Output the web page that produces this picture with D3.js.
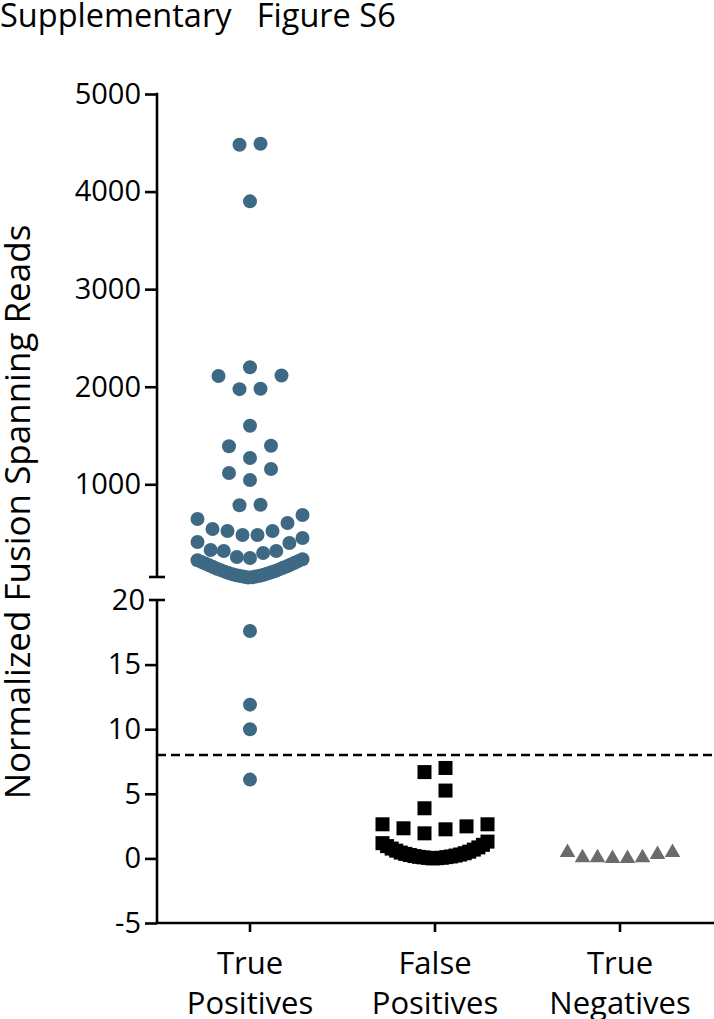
<!DOCTYPE html>
<html><head><meta charset="utf-8">
<script src="https://cdn.jsdelivr.net/npm/d3@7"></script>
<style>
body{margin:0;background:#fff}
svg{display:block}
text{font-family:"Open Sans",sans-serif;fill:#000}
</style>
</head><body>
<svg id="chart" width="714" height="1019"></svg>
<script>
// ---------- data ----------
const categories = ["True Positives", "False Positives", "True Negatives"];
const categoryLines = [["True", "Positives"], ["False", "Positives"], ["True", "Negatives"]];
const truePositives = [
  4480, 4490, 3900, 2200, 2115, 2110, 1980, 1975, 1600, 1395, 1390, 1270,
  1157, 1116, 1044, 790, 785, 685, 644, 603, 542, 521, 521, 480, 480,
  450, 409, 398, 327, 316, 316, 296, 255, 245,
  45, 48, 52, 55, 60, 62, 68, 72, 78, 85, 90, 98, 105, 112, 120, 128,
  135, 145, 152, 160, 170, 178, 188, 196, 205, 215, 222, 232,
  17.6, 11.9, 10.0, 6.1
];
const falsePositives = [
  7.0, 6.68, 5.25, 3.88, 2.64, 2.64, 2.48, 2.33, 2.25, 1.94,
  0.0, 0.02, 0.04, 0.05, 0.08, 0.1, 0.12, 0.15, 0.18, 0.22, 0.26, 0.3,
  0.35, 0.4, 0.45, 0.52, 0.6, 0.68, 0.76, 0.85, 0.95, 1.05, 1.18, 1.3
];
const trueNegatives = [0.45, 0.05, 0, 0, 0.05, 0.05, 0.3, 0.45];
const upperTicks = [1000, 2000, 3000, 4000, 5000];
const lowerTicks = [-5, 0, 5, 10, 15, 20];
const upperDomain = [50, 5000];
const lowerDomain = [-5, 20];
const threshold = 8;
const titleText = "Supplementary   Figure S6";
const yLabel = "Normalized Fusion Spanning Reads";

// ---------- setup ----------
const svg = d3.select("#chart");
const axisX = 157;
const x = d3.scaleBand().domain(categories).range([157.5, 712.5]);
const upperY = d3.scaleLinear().domain(upperDomain).range([577, 94]);
const lowerY = d3.scaleLinear().domain(lowerDomain).range([923, 600]);
const yOf = v => v >= 20 ? upperY(v) : lowerY(v);

// bin key in pixel rows (Prism-like column scatter)
const binPx = 22.9;
function binOf(v) {
  return v >= 20 ? "u" + Math.floor((upperY(5) - upperY(v)) / binPx)
                 : "l" + Math.floor((lowerY(0) - lowerY(v)) / binPx);
}
function layout(values, cx) {
  const groups = d3.group(values.map((v, i) => ({v, i})), d => binOf(d.v));
  const out = [];
  for (const [, pts] of groups) {
    pts.sort((a, b) => a.v - b.v);
    const n = pts.length;
    const s = n > 1 ? Math.min(21, 105 / (n - 1)) : 0;
    pts.forEach((p, k) => {
      let off;
      if (n % 2 === 1) {
        const m = Math.ceil(k / 2);
        off = k === 0 ? 0 : (k % 2 === 1 ? -m : m) * s;
      } else {
        const m = Math.floor(k / 2) + 0.5;
        off = (k % 2 === 0 ? -m : m) * s;
      }
      out.push({v: p.v, i: p.i, x: cx + off, y: yOf(p.v)});
    });
  }
  return out.sort((a, b) => a.i - b.i);
}
const cx = c => x(c) + x.bandwidth() / 2;

// ---------- title ----------
svg.append("text").attr("x", 0).attr("y", 27)
  .style("font-size", "32.5px").style("white-space", "pre")
  .text(titleText);

// ---------- y label ----------
svg.append("text")
  .attr("transform", "translate(30,512) rotate(-90)")
  .attr("text-anchor", "middle")
  .style("font-size", "35px")
  .text(yLabel);

// ---------- axes ----------
const lw = 2.6;
const fmt = d3.format("d");
const upperAxis = d3.axisLeft(upperY).tickValues(upperTicks).tickFormat(fmt).tickSize(12).tickPadding(4).tickSizeOuter(0);
const gU = svg.append("g").attr("transform", `translate(${axisX},0)`).call(upperAxis);
const lowerAxis = d3.axisLeft(lowerY).tickValues(lowerTicks).tickFormat(d => d < 0 ? "-" + Math.abs(d) : fmt(d)).tickSize(12).tickPadding(4).tickSizeOuter(0);
const gL = svg.append("g").attr("transform", `translate(${axisX},0)`).call(lowerAxis);
[gU, gL].forEach(g => {
  g.select(".domain").remove();
  g.selectAll(".tick line").attr("stroke", "#000").attr("stroke-width", lw);
  g.selectAll(".tick text").style("font-size", "29px").style("font-family", "'Open Sans',sans-serif").attr("fill", "#000");
});
gL.selectAll(".tick").filter(d => d === 20).select("line").remove();
gL.selectAll(".tick").filter(d => d === 20).select("text").attr("x", -12);

// axis segments with break caps
const ax = svg.append("g").attr("stroke", "#000").attr("stroke-width", lw).attr("fill", "none");
ax.append("line").attr("x1", axisX).attr("x2", axisX).attr("y1", upperY(upperDomain[1]) - lw / 2).attr("y2", upperY(upperDomain[0]));
ax.append("line").attr("x1", axisX - 8).attr("x2", axisX + 8).attr("y1", upperY(upperDomain[0])).attr("y2", upperY(upperDomain[0]));
ax.append("line").attr("x1", axisX).attr("x2", axisX).attr("y1", lowerY(lowerDomain[1])).attr("y2", lowerY(lowerDomain[0]));
ax.append("line").attr("x1", axisX - 8).attr("x2", axisX + 8).attr("y1", lowerY(lowerDomain[1])).attr("y2", lowerY(lowerDomain[1]));
// x axis
ax.append("line").attr("x1", axisX - lw / 2).attr("x2", 714).attr("y1", lowerY(lowerDomain[0])).attr("y2", lowerY(lowerDomain[0]));
categories.forEach(c => {
  ax.append("line").attr("x1", cx(c)).attr("x2", cx(c))
    .attr("y1", lowerY(lowerDomain[0])).attr("y2", lowerY(lowerDomain[0]) + 9);
});
// x labels
categories.forEach((c, i) => {
  const t = svg.append("text").attr("text-anchor", "middle").style("font-size", "31px");
  categoryLines[i].forEach((ln, j) => {
    t.append("tspan").attr("x", cx(c)).attr("y", 974 + j * 40).text(ln);
  });
});

// threshold line
svg.append("line").attr("x1", axisX).attr("x2", 714)
  .attr("y1", lowerY(threshold)).attr("y2", lowerY(threshold))
  .attr("stroke", "#000").attr("stroke-width", 2.6).attr("stroke-dasharray", "9,5");

// ---------- marks ----------
const tp = layout(truePositives, cx(categories[0]));
svg.append("g").selectAll("circle").data(tp).join("circle")
  .attr("cx", d => d.x).attr("cy", d => d.y).attr("r", 7)
  .attr("fill", "#3e6985");

const fp = layout(falsePositives, cx(categories[1]));
svg.append("g").selectAll("rect").data(fp).join("rect")
  .attr("x", d => d.x - 7).attr("y", d => d.y - 7)
  .attr("width", 14).attr("height", 14).attr("fill", "#000");

const tn = layout(trueNegatives, cx(categories[2]));
svg.append("g").selectAll("path").data(tn).join("path")
  .attr("transform", d => `translate(${d.x},${d.y})`)
  .attr("d", d3.symbol(d3.symbolTriangle, 105))
  .attr("fill", "#6b6b6b");
</script>
</body></html>
